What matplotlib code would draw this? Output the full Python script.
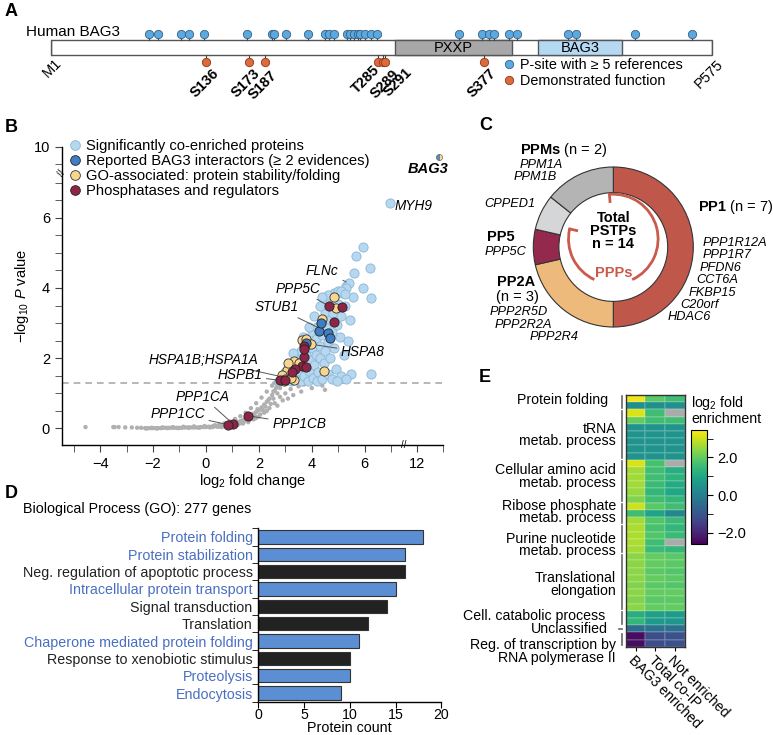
import numpy as np
import matplotlib
matplotlib.use('Agg')
import matplotlib.pyplot as plt
from matplotlib.lines import Line2D
from matplotlib.patches import Rectangle, Arc
import matplotlib.transforms as mtransforms

plt.rcParams['font.family'] = ['Liberation Sans', 'DejaVu Sans']
plt.rcParams['mathtext.fontset'] = 'custom'
plt.rcParams['mathtext.rm'] = 'Liberation Sans'
plt.rcParams['mathtext.it'] = 'Liberation Sans:italic'
plt.rcParams['mathtext.bf'] = 'Liberation Sans:bold'
plt.rcParams['axes.linewidth'] = 1.0

# ---------------- data ----------------
# A: BAG3 sequence features
bag3_len = 575
pxxp_dom = (300, 401)
bag_dom = (424, 497)
psites_blue = [86, 94, 114, 121, 134, 171, 193, 195, 205, 224, 239, 242, 247, 258, 261,
               264, 268, 269, 274, 279, 284, 355, 375, 381, 386, 399, 406, 450, 457, 508, 558]
psites_func = [136, 173, 187, 285, 289, 291, 377]
psites_func_lbl = ['S136', 'S173', 'S187', 'T285', 'S289', 'S291', 'S377']

# B: volcano plot
gray_x = [-4.55, -3.5, -3.45, -3.3, -3.05, -2.8, -2.6, -2.45,
          -2.3, -2.2, -2.1, -2.0, -1.9, -1.8, -1.7, -1.6, -1.5, -1.4, -1.3, -1.2, -1.1, -1.0,
          -0.9, -0.8, -0.7, -0.6, -0.5, -0.4, -0.3, -0.2, -0.1, 0.0, 0.1, 0.2, 0.3, 0.4, 0.5,
          0.6, 0.7, 0.8, 0.9, 1.0, 1.1, 1.2, 1.3, 1.4, 1.5, 1.6, 1.7, 1.8, 1.9, 2.0, 2.1, 2.2,
          2.3, 2.4, 2.5, 2.6, 2.7,
          0.3, 0.5, 0.7, 0.9, 1.1, 1.3, 1.5, 1.7, 1.9, 2.1, 2.3, 2.5, 2.6,
          0.6, 0.8, 1.0, 1.2, 1.4, 1.6, 1.8, 2.0, 2.2, 2.4, 2.6, 2.8, 3.0, 3.2, 3.5, 3.7,
          4.4, 4.5, 1.9, 2.3, 2.7, 3.1,
          -2.25, -2.05, -1.85, -1.65, -1.45, -1.25, -1.05, -0.85, -0.65, -0.45, -0.25, -0.05,
          0.15, 0.35, 0.55, 0.75, 0.95, 1.15, 1.35, 1.55, 1.75, 1.95, 2.15, 2.35, 2.55, 2.65,
          0.25, 0.45, 0.65, 0.85, 1.05, 1.25, 1.45, 1.65, 1.85, 2.05, 2.25, 2.45, 2.55, 2.7,
          2.8, 2.9, 3.3, 3.6, 4.0]
gray_y = [0.04, 0.04, 0.04, 0.04, 0.03, 0.03, 0.02, 0.02,
          0.01, 0.01, 0.01, 0.01, 0.01, 0.01, 0.01, 0.02, 0.02, 0.02, 0.02, 0.02, 0.02, 0.02,
          0.02, 0.03, 0.03, 0.03, 0.03, 0.03, 0.03, 0.04, 0.04, 0.04, 0.05, 0.05, 0.06, 0.06,
          0.07, 0.08, 0.09, 0.10, 0.12, 0.13, 0.15, 0.18, 0.21, 0.24, 0.28, 0.32, 0.37, 0.42,
          0.47, 0.52, 0.60, 0.68, 0.76, 0.85, 0.95, 1.08, 1.22,
          0.08, 0.11, 0.15, 0.20, 0.27, 0.35, 0.45, 0.58, 0.72, 0.88, 1.05, 1.22, 1.30,
          0.04, 0.06, 0.08, 0.10, 0.14, 0.18, 0.26, 0.34, 0.45, 0.58, 0.72, 0.90, 1.00, 1.12,
          1.20, 1.25, 1.22, 1.10, 0.30, 0.50, 0.65, 0.85,
          0.00, 0.02, 0.00, 0.03, 0.01, 0.04, 0.01, 0.05, 0.02, 0.06, 0.02, 0.07,
          0.03, 0.09, 0.05, 0.12, 0.08, 0.20, 0.16, 0.33, 0.30, 0.55, 0.52, 0.80, 0.85, 1.15,
          0.04, 0.05, 0.07, 0.09, 0.10, 0.13, 0.20, 0.25, 0.36, 0.40, 0.62, 0.70, 1.05, 1.00,
          1.15, 0.80, 0.95, 1.05, 1.15]
sig_x = [2.75, 2.9, 3.0, 3.1, 3.15, 3.2, 3.3, 3.35, 3.4, 3.45, 3.5, 3.55, 3.6, 3.6, 3.7, 3.75,
         3.8, 3.8, 3.85, 3.9, 3.95, 4.0, 4.0, 4.05, 4.1, 4.15, 4.15, 4.2, 4.2, 4.25, 4.3, 4.3,
         4.35, 4.4, 4.4, 4.45, 4.5, 4.5, 4.55, 4.6, 4.6, 4.65, 4.7, 4.7, 4.75, 4.75, 4.8, 4.85,
         4.85, 4.9, 4.95, 5.0, 5.0, 5.05, 5.1, 5.1, 5.15, 5.2, 5.25, 5.3, 5.35, 5.4, 5.45, 5.5,
         5.55, 5.59, 5.67, 5.92, 5.95, 6.19, 6.23, 6.25, 5.3, 4.95, 3.3, 3.65, 3.9, 4.1, 4.3,
         4.6, 4.4, 5.28, 5.09, 5.26, 6.95]
sig_y = [1.35, 1.45, 1.6, 1.5, 1.8, 1.35, 1.55, 1.75, 2.0, 1.4, 1.65, 1.9, 2.2, 1.35, 1.5, 1.8,
         2.1, 2.5, 1.35, 1.65, 1.95, 2.3, 2.7, 1.45, 1.8, 2.1, 2.55, 2.9, 1.35, 1.6, 2.0, 2.35,
         3.0, 1.4, 2.65, 1.85, 2.2, 3.3, 2.9, 1.55, 2.45, 3.6, 2.0, 3.1, 1.4, 2.75, 3.3, 2.3,
         3.85, 1.7, 2.95, 3.55, 3.9, 2.6, 3.2, 1.5, 3.85, 2.1, 3.5, 4.05, 2.5, 4.14, 3.1, 1.55,
         3.75, 4.42, 4.92, 4.0, 5.17, 4.57, 3.72, 1.55, 1.4, 1.35, 2.15, 2.6, 2.9, 3.2, 3.5,
         3.8, 3.75, 4.0, 3.92, 3.82, 6.41]
intr_x = [4.27, 4.62, 4.68, 4.33, 3.79]
intr_y = [2.77, 2.71, 2.58, 2.99, 2.44]
fold_x = [4.83, 4.90, 4.39, 3.64, 3.78, 3.32, 3.07, 2.88, 3.32, 4.45, 3.0, 3.2, 3.5, 3.1, 2.95, 3.97]
fold_y = [3.75, 3.44, 3.12, 2.52, 2.55, 1.93, 1.67, 1.51, 1.37, 1.65, 1.40, 1.45, 1.85, 1.85, 1.35, 2.40]
phos_x = [4.64, 5.15, 4.83, 3.70, 3.70, 3.64, 3.80, 3.38, 3.26, 2.81, 3.0, 3.72, 1.01, 0.83, 1.60]
phos_y = [3.49, 3.46, 3.04, 2.36, 2.03, 1.79, 1.75, 1.70, 1.60, 1.37, 1.39, 2.25, 0.14, 0.11, 0.36]
bag3_pt = (12.82, 9.72)
# gene label: (name, x, y, text offset px, ha)
gene_labels = [('FLNc', 5.40, 4.14, (-10, 12), 'right'),
               ('PPP5C', 4.64, 3.49, (-8, 17), 'right'),
               ('STUB1', 4.30, 2.85, (-21, 21), 'right'),
               ('HSPA8', 3.97, 2.40, (30, -8), 'left'),
               ('HSPA1B;HSPA1A', 3.0, 1.45, (-27, 18), 'right'),
               ('HSPB1', 2.81, 1.37, (-18, 5), 'right'),
               ('PPP1CA', 1.01, 0.14, (-3, 27), 'right'),
               ('PPP1CC', 0.83, 0.11, (-23, 11), 'right'),
               ('PPP1CB', 1.60, 0.36, (24, -8), 'left')]

# C: phosphatase donut
pstp_groups = ['PP1', 'PP2A', 'PP5', 'CPPED1', 'PPMs']
pstp_counts = [7, 3, 1, 1, 2]
pstp_colors = ['#C0574B', '#EDBA7C', '#95284D', '#D5D6D8', '#B4B4B4']

# D: GO biological process
go_terms = ['Protein folding', 'Protein stabilization', 'Neg. regulation of apoptotic process',
            'Intracellular protein transport', 'Signal transduction', 'Translation',
            'Chaperone mediated protein folding', 'Response to xenobiotic stimulus',
            'Proteolysis', 'Endocytosis']
go_counts = [18, 16, 16, 15, 14, 12, 11, 10, 10, 9]
go_highlight = [True, True, False, True, False, False, True, False, True, True]

# E: enrichment heatmap
heat_cols = ['BAG3 enriched', 'Total co-IP', 'Not enriched']
nan = np.nan
heat_vals = [
    [3.3, 1.9, 1.6], [0.4, 0.4, 0.4],
    [3.1, 1.6, nan], [2.0, 1.6, 1.6], [0.5, 0.5, 0.5], [0.5, 0.5, 0.5], [0.5, 0.5, 0.5],
    [0.5, 0.5, 0.5], [0.5, 0.5, 0.5],
    [3.1, 1.7, nan], [2.6, 1.6, 1.2], [2.6, 1.6, 1.3], [2.6, 1.5, 1.1], [2.5, 1.4, 1.0],
    [2.3, 1.6, 1.4],
    [3.0, 1.9, 1.6], [1.6, 0.9, 0.2], [2.6, 1.8, 1.5],
    [2.7, 1.7, 1.4], [2.7, 1.8, 1.5], [2.7, 1.6, nan], [2.6, 1.5, 1.4],
    [2.4, 2.0, 1.9], [2.4, 2.0, 1.9], [2.4, 1.9, 1.8], [2.4, 2.0, 1.9], [2.3, 1.9, 1.8],
    [2.4, 2.0, 2.0], [2.3, 1.9, 1.9], [2.4, 2.0, 2.0],
    [1.2, 0.8, 0.7], [1.4, 0.7, 0.6],
    [-0.5, -0.4, -0.4],
    [-2.4, -1.2, -1.1], [-2.4, -1.2, -1.1]]
# group: (label, first row, last row, label y px, label right x px)
heat_groups = [('Protein folding', 0, 1, 400, 608), ('tRNA\nmetab. process', 2, 8, 435, 616),
               ('Cellular amino acid\nmetab. process', 9, 14, 476.5, 616),
               ('Ribose phosphate\nmetab. process', 15, 17, 512, 616),
               ('Purine nucleotide\nmetab. process', 18, 21, 545, 616),
               ('Translational\nelongation', 22, 29, 584.5, 616),
               ('Cell. catabolic process', 30, 31, 615.7, 605),
               ('Unclassified', 32, 32, 629.3, 608),
               ('Reg. of transcription by\nRNA polymerase II', 33, 34, 651.8, 616)]

# ---------------- layout helpers ----------------
W, H = 773, 735
fig = plt.figure(figsize=(W / 100, H / 100), dpi=100)


def box(x0, y0, x1, y1):
    return [x0 / W, 1 - y1 / H, (x1 - x0) / W, (y1 - y0) / H]


def ft(x, y, s, **kw):
    return fig.text(x / W, 1 - y / H, s, **kw)


FS = 9.8
for lbl, (x, y) in zip('ABCDE', [(5, 12), (5, 127), (479, 125), (5, 493), (479, 378)]):
    ft(x, y, lbl, fontsize=13, fontweight='bold', va='center')

# ---------------- A ----------------
blue_c, orange_c = '#5AA9E0', '#DE6A3C'
ax_a = fig.add_axes(box(51, 25, 712, 75))
ax_a.set_xlim(1, bag3_len)
ax_a.set_ylim(75, 25)
ax_a.axis('off')
ax_a.add_patch(Rectangle((1, 40), bag3_len - 1, 15, fc='white', ec='#555', lw=1, clip_on=False))
ax_a.add_patch(Rectangle((pxxp_dom[0], 40), pxxp_dom[1] - pxxp_dom[0], 15, fc='#A8A8A8', ec='#555', lw=1))
ax_a.add_patch(Rectangle((bag_dom[0], 40), bag_dom[1] - bag_dom[0], 15, fc='#B5D8F3', ec='#555', lw=1))
ax_a.text(sum(pxxp_dom) / 2, 48, 'PXXP', ha='center', va='center', fontsize=10.5)
ax_a.text(sum(bag_dom) / 2, 48, 'BAG3', ha='center', va='center', fontsize=10.5)
for p in psites_blue:
    ax_a.plot([p, p], [34, 40], color='#444', lw=0.8, clip_on=False)
ax_a.plot(psites_blue, [34] * len(psites_blue), 'o', ms=6, mfc=blue_c, mec='#3A5F80', mew=0.6, clip_on=False)
lbl_shift = [(5, -1), (4, -1), (5, -3), (-5, 2), (9, -2), (20, 0), (5, -1)]
for p, lab, off in zip(psites_func, psites_func_lbl, lbl_shift):
    ax_a.plot([p, p], [55, 62], color='#444', lw=0.8, clip_on=False)
    ax_a.annotate(lab, (p, 65), xytext=off, textcoords='offset pixels', rotation=45,
                  rotation_mode='anchor', ha='right', va='top', fontsize=10.5, fontweight='bold')
ax_a.plot(psites_func, [62] * len(psites_func), 'o', ms=6, mfc=orange_c, mec='#8A3A1A', mew=0.6, clip_on=False)
ax_a.annotate('M1', (1, 56), xytext=(3, 0), textcoords='offset pixels', rotation=45,
              rotation_mode='anchor', ha='right', va='top', fontsize=10.5)
ax_a.annotate('P575', (bag3_len, 57), xytext=(4, 0), textcoords='offset pixels', rotation=45,
              rotation_mode='anchor', ha='right', va='top', fontsize=10.5)
ft(26, 32, 'Human BAG3', fontsize=11, va='center')
ax_a.plot([1, 1], [40, 55], color='#555', lw=1)
ax_a.plot([bag3_len] * 2, [40, 55], color='#555', lw=1)
leg_a = [Line2D([], [], ls='', marker='o', ms=6, mfc=blue_c, mec='#3A5F80', mew=0.6),
         Line2D([], [], ls='', marker='o', ms=6, mfc=orange_c, mec='#8A3A1A', mew=0.6)]
fig.legend(leg_a, ['P-site with \u2265 5 references', 'Demonstrated function'], loc='upper left',
           bbox_to_anchor=(503 / W, 1 - 58 / H), frameon=False, fontsize=10.4, handlelength=0.8,
           handletextpad=0.4, labelspacing=0.15, borderpad=0, borderaxespad=0)

# ---------------- B ----------------
def fx(v):
    return np.interp(v, [-100, 7.45, 11.5, 100], [-100, 7.45, 7.47, 95.97])


def ix(v):
    return np.interp(v, [-100, 7.45, 7.47, 95.97], [-100, 7.45, 11.5, 100])


def fy(v):
    return np.interp(v, [-100, 7.25, 9.25, 100], [-100, 7.25, 7.27, 98.02])


def iy(v):
    return np.interp(v, [-100, 7.25, 7.27, 98.02], [-100, 7.25, 9.25, 100])


ax_b = fig.add_axes(box(61.7, 146.7, 443.3, 445))
ax_b.set_xscale('function', functions=(fx, ix))
ax_b.set_yscale('function', functions=(fy, iy))
ax_b.set_xlim(-5.45, 13)
ax_b.set_ylim(-0.47, 10)
for s in ['top', 'right']:
    ax_b.spines[s].set_visible(False)
ax_b.set_xticks([-4, -2, 0, 2, 4, 6, 12])
ax_b.set_xticks([-5, -3, -1, 1, 3, 5, 7, 13], minor=True)
ax_b.set_yticks([0, 2, 4, 6, 10])
ax_b.set_yticks([0.5, 1, 1.5, 2.5, 3, 3.5, 4.5, 5, 5.5, 6.5, 7, 9.5], minor=True)
ax_b.set_xticklabels(['\u22124', '\u22122', '0', '2', '4', '6', '12'])
ax_b.tick_params(which='major', length=5, labelsize=10.5, color='#444')
ax_b.tick_params(which='minor', length=5, color='#444')
ax_b.axhline(1.3, color='#AAAAAA', ls=(0, (4, 3)), lw=1.2, zorder=1)
ax_b.scatter(gray_x, gray_y, s=10, c='#B0B0B0', edgecolors='none', zorder=2)
ax_b.scatter(sig_x, sig_y, s=44, c='#B5D7F0', edgecolors='#8DB6D6', linewidths=0.6, zorder=3)
ax_b.scatter(fold_x, fold_y, s=44, c='#F8D68F', edgecolors='#333', linewidths=0.6, zorder=4)
ax_b.scatter(intr_x, intr_y, s=44, c='#3E7EC4', edgecolors='#222', linewidths=0.6, zorder=5)
ax_b.scatter(phos_x, phos_y, s=44, c='#8E2446', edgecolors='#222', linewidths=0.6, zorder=6)
ax_b.plot(*bag3_pt, marker='o', ms=4.5, fillstyle='left', mfc='#4D8FD0', mfcalt='#F8D68F',
          mec='#555', mew=0.4, clip_on=False, zorder=7)
ax_b.annotate('BAG3', bag3_pt, xytext=(10, -12), textcoords='offset pixels', ha='right',
              va='center', fontsize=10.5, fontweight='bold', style='italic')
ax_b.annotate('MYH9', (6.95, 6.41), xytext=(5, -3), textcoords='offset pixels', ha='left',
              va='center', fontsize=FS, style='italic')
for name, x, y, off, ha in gene_labels:
    ax_b.annotate(name, (x, y), xytext=off, textcoords='offset pixels', ha=ha, va='center',
                  fontsize=FS, style='italic',
                  arrowprops=dict(arrowstyle='-', color='#555', lw=0.7, shrinkA=1, shrinkB=2))
ax_b.text(9.5, -0.47, '//', ha='center', va='center', fontsize=7, clip_on=False)
ax_b.text(-5.45, 8.25, '//', ha='center', va='center', fontsize=7, rotation=60, clip_on=False)
ax_b.set_ylabel(r'$-$log$_{10}$ $P$ value', fontsize=10.5, labelpad=2)
ax_b.set_xlabel(r'log$_2$ fold change', fontsize=10.5, labelpad=1)
leg_b = [Line2D([], [], ls='', marker='o', ms=7, mfc=c, mec=e, mew=0.6)
         for c, e in [('#B5D7F0', '#8DB6D6'), ('#3E7EC4', '#222'), ('#F8D68F', '#333'), ('#8E2446', '#222')]]
ax_b.legend(leg_b, ['Significantly co-enriched proteins', 'Reported BAG3 interactors (\u2265 2 evidences)',
                    'GO-associated: protein stability/folding', 'Phosphatases and regulators'],
            loc='upper left', bbox_to_anchor=(0.02, 1.025), frameon=False, fontsize=10.6,
            handlelength=0.8, handletextpad=0.3, labelspacing=0.06, borderpad=0, borderaxespad=0)

# ---------------- C ----------------
ax_c = fig.add_axes(box(513.3, 147, 713.3, 347))
ax_c.set_xlim(-1.2, 1.2)
ax_c.set_ylim(-1.2, 1.2)
ax_c.set_aspect('equal')
ax_c.axis('off')
ax_c.pie(pstp_counts, colors=pstp_colors, startangle=90, counterclock=False, radius=1,
         wedgeprops=dict(width=0.32, edgecolor='#333', linewidth=0.8))
ppp_c = '#C95A4C'
ax_c.add_patch(Arc((0, 0.1), 1.12, 1.12, theta1=167, theta2=245, color=ppp_c, lw=2))
ax_c.add_patch(Arc((0, 0.1), 1.12, 1.12, theta1=295, theta2=455, color=ppp_c, lw=2))
for ang in [167, 95]:
    a = np.deg2rad(ang)
    ax_c.plot([0.56 * np.cos(a), 0.47 * np.cos(a)], [0.1 + 0.56 * np.sin(a), 0.1 + 0.47 * np.sin(a)],
              color=ppp_c, lw=2)
ax_c.text(0, 0.2, 'Total\nPSTPs\nn = 14', ha='center', va='center', fontsize=10.5,
          fontweight='bold', linespacing=0.92)
ax_c.text(0, -0.33, 'PPPs', ha='center', va='center', fontsize=10.5, fontweight='bold', color=ppp_c)
GS = 9.2
ft(520, 150, r'$\bf{PPMs}$ (n = 2)', fontsize=10.5, va='center')
ft(563, 165.5, 'PPM1A', fontsize=GS, style='italic', ha='right', va='center')
ft(557, 177.5, 'PPM1B', fontsize=GS, style='italic', ha='right', va='center')
ft(535, 204, 'CPPED1', fontsize=GS, style='italic', ha='right', va='center')
ft(486.7, 236.7, 'PP5', fontsize=10.5, fontweight='bold', va='center')
ft(526, 251.7, 'PPP5C', fontsize=GS, style='italic', ha='right', va='center')
ft(496.7, 281.7, 'PP2A', fontsize=10.5, fontweight='bold', va='center')
ft(496, 296.7, '(n = 3)', fontsize=10.5, va='center')
ft(490, 311.7, 'PPP2R5D', fontsize=GS, style='italic', va='center')
ft(495, 324.5, 'PPP2R2A', fontsize=GS, style='italic', va='center')
ft(530, 337.5, 'PPP2R4', fontsize=GS, style='italic', va='center')
ft(698, 206.7, r'$\bf{PP1}$ (n = 7)', fontsize=10.5, va='center')
for name, x, y in [('PPP1R12A', 702.7, 242.5), ('PPP1R7', 702.7, 255), ('PFDN6', 700, 267.5),
                   ('CCT6A', 696, 280), ('FKBP15', 689, 292.5), ('C20orf', 680, 305),
                   ('HDAC6', 668, 317.5)]:
    ft(x, y, name, fontsize=GS, style='italic', va='center')

# ---------------- D ----------------
ft(23, 509, 'Biological Process (GO): 277 genes', fontsize=10.3, va='center')
ax_d = fig.add_axes(box(258.3, 528.3, 441.5, 701.7))
ypos = np.arange(len(go_terms))
bar_cols = ['#5B8ED2' if h else '#222222' for h in go_highlight]
ax_d.barh(ypos, go_counts, height=0.78, color=bar_cols, edgecolor='#333', linewidth=0.8)
ax_d.set_ylim(len(go_terms) - 0.5, -0.5)
ax_d.set_xlim(0, 20)
ax_d.set_xticks([0, 5, 10, 15, 20])
ax_d.set_yticks(ypos)
ax_d.set_yticklabels(go_terms, fontsize=10.3)
for t, h in zip(ax_d.get_yticklabels(), go_highlight):
    t.set_color('#4A6FC2' if h else '#222222')
ax_d.set_yticks(np.arange(-0.5, len(go_terms)), minor=True)
ax_d.tick_params(axis='y', which='major', length=0, pad=4)
ax_d.tick_params(axis='y', which='minor', length=4)
ax_d.tick_params(axis='x', labelsize=10.2, length=4, pad=0.5)
for s in ['top', 'right']:
    ax_d.spines[s].set_visible(False)
ft(349, 728.5, 'Protein count', fontsize=10.3, ha='center', va='center')

# ---------------- E ----------------
ax_e = fig.add_axes(box(625.7, 395, 685, 646.7))
hv = np.ma.masked_invalid(np.array(heat_vals))
cmap = plt.get_cmap('viridis').copy()
cmap.set_bad('#ABABAB')
mesh = ax_e.pcolormesh(hv, cmap=cmap, vmin=-2.6, vmax=3.45, edgecolors=(1, 1, 1, 0.12), linewidth=0.3)
ax_e.set_ylim(len(heat_vals), 0)
ax_e.set_xlim(0, 3)
ax_e.set_yticks([])
ax_e.set_xticks(np.arange(3) + 0.5)
ax_e.set_xticklabels(heat_cols, rotation=-45, ha='left', rotation_mode='anchor', fontsize=10.2)
ax_e.tick_params(axis='x', length=3, pad=2)
for s in ax_e.spines.values():
    s.set_color('#333')
btr = mtransforms.blended_transform_factory(ax_e.transAxes, ax_e.transData)
for name, r0, r1, ly, lx in heat_groups:
    if r0 == r1:
        ax_e.plot([-0.11, -0.06], [r0 + 0.5] * 2, color='#666', lw=1.2, transform=btr, clip_on=False)
    else:
        ax_e.plot([-0.07, -0.07], [r0 + 0.2, r1 + 0.8], color='#666', lw=1.2, transform=btr, clip_on=False)
    ft(lx, ly, name, ha='right', va='center', fontsize=10.2, linespacing=0.9, multialignment='right')
cax = fig.add_axes(box(690.7, 430, 707.3, 544.3))
cb = fig.colorbar(mesh, cax=cax)
cb.set_ticks([-2, 0, 2])
cb.set_ticklabels(['\u22122.0', '0.0', '2.0'])
cb.set_ticks([-1, 1, 3], minor=True)
cax.tick_params(which='both', length=4, labelsize=10.5)
cb.outline.set_linewidth(0.8)
ft(691, 402.7, r'log$_2$ fold', fontsize=10.2, va='center')
ft(691, 419, 'enrichment', fontsize=10.2, va='center')

fig.savefig('out.png', dpi=100)
